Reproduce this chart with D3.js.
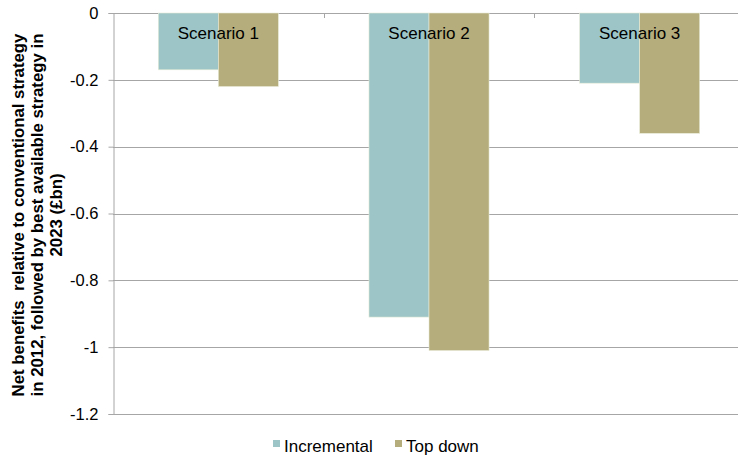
<!DOCTYPE html>
<html><head><meta charset="utf-8">
<script src="https://cdn.jsdelivr.net/npm/d3@7"></script>
<style>body{margin:0;background:#fff}svg{display:block;font-family:"Liberation Sans",Arial,sans-serif}</style>
</head><body>
<svg id="c" width="738" height="455"></svg>
<script>
const categories = ["Scenario 1", "Scenario 2", "Scenario 3"];
const seriesNames = ["Incremental", "Top down"];
const incremental = [-0.17, -0.91, -0.21];
const topDown = [-0.22, -1.01, -0.36];
const yTicks = [0, -0.2, -0.4, -0.6, -0.8, -1, -1.2];
const colors = ["#9dc5c7", "#b5ad7b"];
const yTitle = ["Net benefits  relative to conventional strategy", "in 2012, followed by best available strategy in", "2023 (£bn)"];

(function () {
const svg = d3.select("#c");
const pL = 113, pR = 745, pT = 13, pB = 414;
const x = d3.scaleBand().domain(categories).range([pL, pR]).paddingInner(0.43).paddingOuter(0.215);
const band = d3.scaleBand().domain(categories).range([pL, pR]);
const xs = d3.scaleBand().domain(seriesNames).range([0, x.bandwidth()]);
const y = d3.scaleLinear().domain([-1.2, 0]).range([pB, pT]);

// gridlines
svg.append("g").selectAll("line").data(yTicks).join("line")
  .attr("x1", pL).attr("x2", pR)
  .attr("y1", d => Math.round(y(d)) + 0.5).attr("y2", d => Math.round(y(d)) + 0.5)
  .attr("stroke", "#a6a6a6").attr("stroke-width", 1);

// y axis
const yAxis = d3.axisLeft(y).tickValues(yTicks).tickSize(5).tickPadding(10)
  .tickFormat(d => d === 0 ? "0" : String(d));
const ga = svg.append("g").attr("transform", `translate(${pL + 0.5},0)`).call(yAxis);
ga.select(".domain").attr("stroke", "#a6a6a6");
ga.selectAll(".tick line").attr("stroke", "#a6a6a6");
ga.selectAll("text").attr("font-size", 16.5).attr("fill", "#000").attr("font-family", "Liberation Sans, Arial, sans-serif");

// bars
const data = [];
categories.forEach((c, i) => {
  data.push({c, s: seriesNames[0], v: incremental[i], col: colors[0]});
  data.push({c, s: seriesNames[1], v: topDown[i], col: colors[1]});
});
svg.append("g").selectAll("rect").data(data).join("rect")
  .attr("x", d => x(d.c) + xs(d.s))
  .attr("width", xs.bandwidth())
  .attr("y", y(0))
  .attr("height", d => y(d.v) - y(0))
  .attr("fill", d => d.col)
  .attr("stroke", "#e8ecd8").attr("stroke-width", 0.6);

// category tick marks at top
svg.append("g").selectAll("line").data(categories.slice(1)).join("line")
  .attr("x1", d => Math.round(band(d)) + 0.5).attr("x2", d => Math.round(band(d)) + 0.5)
  .attr("y1", y(0)).attr("y2", y(0) + 5)
  .attr("stroke", "#a6a6a6");

// category labels
svg.append("g").selectAll("text").data(categories).join("text")
  .attr("x", d => x(d) + x.bandwidth() / 2)
  .attr("y", y(0) + 26)
  .attr("text-anchor", "middle").attr("font-size", 17).attr("fill", "#000")
  .text(d => d);

// y title
const tg = svg.append("g").attr("transform", `translate(0,${(pT + pB) / 2 + 1.5}) rotate(-90)`);
yTitle.forEach((t, i) => {
  tg.append("text").attr("x", 0).attr("y", 24 + i * 19)
    .attr("text-anchor", "middle").attr("font-size", 16.8).attr("font-weight", "bold").attr("fill", "#000")
    .style("white-space", "pre")
    .text(t);
});

// legend
const lg = svg.append("g");
const legendX = [273, 395];
seriesNames.forEach((s, i) => {
  lg.append("rect").attr("x", legendX[i]).attr("y", 440).attr("width", 7).attr("height", 7).attr("fill", colors[i]);
  lg.append("text").attr("x", legendX[i] + 11).attr("y", 452).attr("font-size", 17).attr("fill", "#000").text(s);
});
})();
</script>
</body></html>
